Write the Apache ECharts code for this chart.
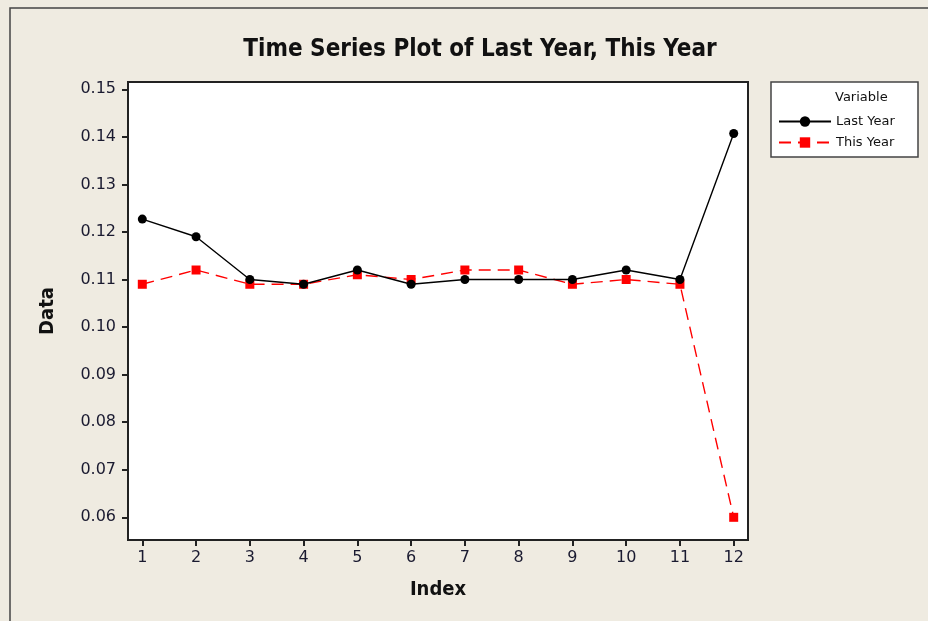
<!DOCTYPE html>
<html>
<head>
<meta charset="utf-8">
<script src="https://cdn.jsdelivr.net/npm/echarts@6/dist/echarts.min.js"></script>
<style>html,body{margin:0;padding:0;background:#efebe1;}#c{width:928px;height:621px;}</style>
</head>
<body>
<div id="c"></div>
<script>
const indexValues = [1,2,3,4,5,6,7,8,9,10,11,12];
const lastYear = [0.1227,0.119,0.110,0.109,0.112,0.109,0.110,0.110,0.110,0.112,0.110,0.1407];
const thisYear = [0.109,0.112,0.109,0.109,0.111,0.110,0.112,0.112,0.109,0.110,0.109,0.060];
const yTicks = [0.06,0.07,0.08,0.09,0.10,0.11,0.12,0.13,0.14,0.15];
const seriesNames = ['Last Year','This Year'];

const font = 'DejaVu Sans';
const chart = echarts.init(document.getElementById('c'));
chart.setOption({
  backgroundColor: '#efebe1',
  animation: false,
  title: {
    text: 'Time Series Plot of Last Year, This Year',
    left: 475, top: 33, textAlign: 'center',
    textStyle: {fontFamily: 'DejaVu Sans Condensed', fontWeight: 'bold', fontSize: 24, color: '#111'}
  },
  graphic: [
    {type: 'rect', shape: {x: 10, y: 8, width: 940, height: 640}, style: {fill: 'none', stroke: '#444', lineWidth: 1.5}, z: 0},
    {type: 'rect', shape: {x: 771, y: 82, width: 147, height: 75}, style: {fill: '#fff', stroke: '#444', lineWidth: 1.5}, z: 1},
    {type: 'text', left: 835, top: 91, style: {text: 'Variable', fontFamily: font, fontSize: 13, fill: '#111'}, z: 2}
  ],
  legend: {
    orient: 'vertical', left: 773, top: 110, itemGap: 8, itemWidth: 52, itemHeight: 13,
    data: seriesNames,
    textStyle: {fontFamily: font, fontSize: 13, color: '#111', padding: [0,0,0,0]},
    z: 5
  },
  grid: {left: 128, top: 82, right: 180, bottom: 81, show: true, backgroundColor: '#fff', borderColor: '#222', borderWidth: 2},
  xAxis: {
    type: 'value', min: 0.734, max: 12.266,
    name: 'Index', nameLocation: 'middle', nameGap: 40,
    nameTextStyle: {fontFamily: 'DejaVu Sans Condensed', fontWeight: 'bold', fontSize: 20, color: '#111'},
    axisLine: {lineStyle: {color: '#222', width: 2}},
    axisTick: {show: true, length: 6, customValues: indexValues, lineStyle: {color: '#222', width: 2}},
    axisLabel: {customValues: indexValues, fontFamily: font, fontSize: 16, color: '#1a1a30', margin: 10},
    splitLine: {show: false}
  },
  yAxis: {
    type: 'value', min: 0.05523, max: 0.15153,
    name: 'Data', nameLocation: 'middle', nameGap: 70, nameRotate: 90,
    nameTextStyle: {fontFamily: 'DejaVu Sans Condensed', fontWeight: 'bold', fontSize: 20, color: '#111'},
    axisLine: {show: true, lineStyle: {color: '#222', width: 2}},
    axisTick: {show: true, length: 6, customValues: yTicks, lineStyle: {color: '#222', width: 2}},
    axisLabel: {customValues: yTicks, fontFamily: font, fontSize: 16, color: '#1a1a30', margin: 12,
      formatter: v => v.toFixed(2)},
    splitLine: {show: false}
  },
  series: [
    {name: seriesNames[0], type: 'line', data: indexValues.map((x,i)=>[x,lastYear[i]]),
     symbol: 'circle', symbolSize: 9, itemStyle: {color: '#000'},
     lineStyle: {color: '#000', width: 1.4}, z: 3},
    {name: seriesNames[1], type: 'line', data: indexValues.map((x,i)=>[x,thisYear[i]]),
     symbol: 'rect', symbolSize: 9, itemStyle: {color: '#ff0000'},
     lineStyle: {color: '#ff0000', width: 1.4, type: [12,7]}, z: 2}
  ]
});
</script>
</body>
</html>
